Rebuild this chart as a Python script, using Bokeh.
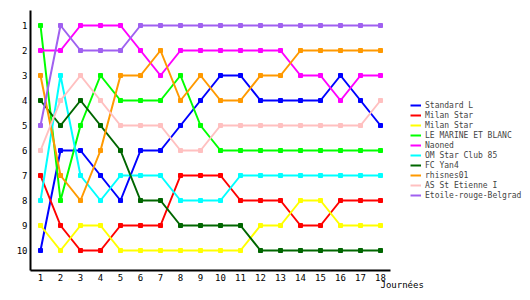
from bokeh.plotting import figure
from bokeh.models import Range1d, Legend, LegendItem, Title, FixedTicker
from bokeh.embed import file_html
from bokeh.resources import INLINE

days = list(range(1, 19))
teams = ["Standard L", "Milan Star", "Milan Star", "LE MARINE ET BLANC", "Naoned",
         "OM Star Club 85", "FC Yan4", "rhisnes01", "AS St Etienne I", "Etoile-rouge-Belgrad"]
colors = ["#0000ff", "#ff0000", "#ffff00", "#00ff00", "#ff00ff",
          "#00ffff", "#006600", "#ff9900", "#ffc0c0", "#a060f0"]

standard_l = [10, 6, 6, 7, 8, 6, 6, 5, 4, 3, 3, 4, 4, 4, 4, 3, 4, 5]
milan_star_1 = [7, 9, 10, 10, 9, 9, 9, 7, 7, 7, 8, 8, 8, 9, 9, 8, 8, 8]
milan_star_2 = [9, 10, 9, 9, 10, 10, 10, 10, 10, 10, 10, 9, 9, 8, 8, 9, 9, 9]
le_marine = [1, 8, 5, 3, 4, 4, 4, 3, 5, 6, 6, 6, 6, 6, 6, 6, 6, 6]
naoned = [2, 2, 1, 1, 1, 2, 3, 2, 2, 2, 2, 2, 2, 3, 3, 4, 3, 3]
om_star = [8, 3, 7, 8, 7, 7, 7, 8, 8, 8, 7, 7, 7, 7, 7, 7, 7, 7]
fc_yan4 = [4, 5, 4, 5, 6, 8, 8, 9, 9, 9, 9, 10, 10, 10, 10, 10, 10, 10]
rhisnes01 = [3, 7, 8, 6, 3, 3, 2, 4, 3, 4, 4, 3, 3, 2, 2, 2, 2, 2]
as_st_etienne = [6, 4, 3, 4, 5, 5, 5, 6, 6, 5, 5, 5, 5, 5, 5, 5, 5, 4]
etoile = [5, 1, 2, 2, 2, 1, 1, 1, 1, 1, 1, 1, 1, 1, 1, 1, 1, 1]

series = [standard_l, milan_star_1, milan_star_2, le_marine, naoned,
          om_star, fc_yan4, rhisnes01, as_st_etienne, etoile]
rank_ticks = list(range(1, 11))

FONT = "DejaVu Sans Mono"

# frame spans to the right edge so the legend can sit inside it; the x axis line is bounded
p = figure(width=530, height=300, output_backend="svg", toolbar_location=None,
           x_range=Range1d(0.5, 25.5), y_range=Range1d(10.8, 0.4),
           min_border_left=30, min_border_right=0, min_border_top=10, min_border_bottom=30)
p.outline_line_color = None
p.grid.visible = False
p.background_fill_color = "white"
p.border_fill_color = "white"

for ax in (p.xaxis[0], p.yaxis[0]):
    ax.axis_line_width = 2
    ax.axis_line_color = "black"
    ax.major_tick_line_color = None
    ax.minor_tick_line_color = None
    ax.major_tick_out = 0
    ax.major_tick_in = 0
    ax.minor_tick_out = 0
    ax.minor_tick_in = 0
    ax.major_label_text_font = FONT
    ax.major_label_text_font_size = "9px"
    ax.major_label_text_color = "black"
    ax.major_label_standoff = 3
p.xaxis[0].ticker = FixedTicker(ticks=days)
p.xaxis[0].bounds = (0.5, 18.5)
p.yaxis[0].ticker = FixedTicker(ticks=rank_ticks)

items = []
for name, col, vals in zip(teams, colors, series):
    r = p.line(days, vals, line_color=col, line_width=2)
    p.scatter(days, vals, marker="square", size=4, color=col)
    items.append(LegendItem(label=name, renderers=[r]))

legend = Legend(items=items, location=(380, 70), orientation="vertical",
                padding=0, margin=0, spacing=0, glyph_width=11, glyph_height=10,
                label_height=10, label_standoff=4, label_text_font=FONT,
                label_text_font_size="8px", label_text_baseline="top",
                border_line_color=None, background_fill_alpha=0)
p.add_layout(legend, "center")

p.add_layout(Title(text="Journées", align="left", offset=350, standoff=-12, text_font=FONT,
                   text_font_size="9px", text_font_style="normal", text_color="black"), "below")

open("out.html", "w").write(file_html(p, INLINE))
